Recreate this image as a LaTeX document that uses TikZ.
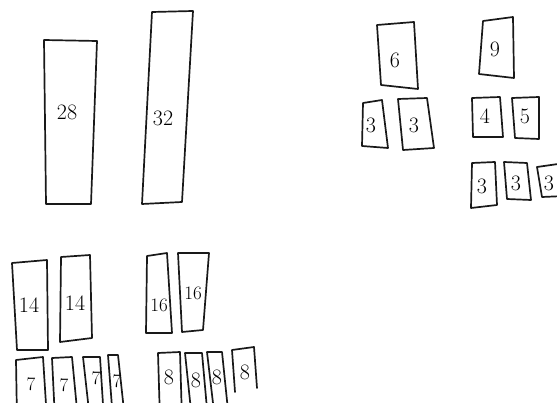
\documentclass[tikz,border=0pt]{standalone}
\begin{document}
\begin{tikzpicture}[x=1pt,y=-1pt,
  card/.style={draw=black!90,line width=1.7pt,line join=round,line cap=round},
  num/.style={font=\fontsize{22}{22}\selectfont,inner sep=0pt},
  smallnum/.style={num,font=\fontsize{19}{19}\selectfont}]
\useasboundingbox (0,0) rectangle (557,403);
\clip (0,0) rectangle (557,403);
% top-left pair
\draw[card] (44,40) -- (97,41) -- (91,204) -- (46,204) -- cycle;
\node[num] (n28) at (67,112) {28};
\draw[card] (152,12) -- (193,11) -- (182,202) -- (142,204) -- cycle;
\node[num] (n32) at (163,118) {32};
% 6 and its halves
\draw[card] (377,25) -- (414,22) -- (418,89) -- (381,85) -- cycle;
\node[num] (n6) at (395,60) {6};
\draw[card] (363,103) -- (382,100) -- (388,148) -- (362,146) -- cycle;
\node[num] (n3a) at (371,125) {3};
\draw[card] (398,99) -- (427,98) -- (434,148) -- (403,150) -- cycle;
\node[num] (n3b) at (414,125) {3};
% 9 group
\draw[card] (483,21) -- (513,17) -- (514,78) -- (479,74) -- cycle;
\node[num] (n9) at (495,49) {9};
\draw[card] (472,98) -- (500,97) -- (503,137) -- (473,137) -- cycle;
\node[num] (n4) at (485,116) {4};
\draw[card] (512,98) -- (539,97) -- (539,139) -- (515,138) -- cycle;
\node[num] (n5) at (525,116) {5};
\draw[card] (472,163) -- (495,162) -- (497,205) -- (471,208) -- cycle;
\node[num] (n3c) at (482,186) {3};
\draw[card] (504,162) -- (527,163) -- (531,200) -- (507,199) -- cycle;
\node[num] (n3d) at (516,183) {3};
\draw[card] (537,167) -- (565,163) -- (565,196) -- (542,197) -- cycle;
\node[num] (n3e) at (549,183) {3};
% 14s and 16s
\draw[card] (12,263) -- (47,260) -- (48,350) -- (17,350) -- cycle;
\node[num] (n14a) at (29,305) {14};
\draw[card] (61,257) -- (90,255) -- (92,338) -- (60,342) -- cycle;
\node[num] (n14b) at (75,303) {14};
\draw[card] (147,256) -- (167,253) -- (172,333) -- (146,333) -- cycle;
\node[smallnum] (n16a) at (159,305) {16};
\draw[card] (178,253) -- (209,253) -- (203,330) -- (182,332) -- cycle;
\node[smallnum] (n16b) at (193,293) {16};
% 7s (running off the bottom edge)
\draw[card] (17,420) -- (16,360) -- (43,357) -- (47,420);
\node[smallnum] (n7a) at (31,384) {7};
\draw[card] (55,420) -- (52,358) -- (72,357) -- (78,420);
\node[smallnum] (n7b) at (64,385) {7};
\draw[card] (90,420) -- (83,357) -- (100,357) -- (104,420);
\node[smallnum] (n7c) at (96,378) {7};
\draw[card] (113,420) -- (108,355) -- (118,355) -- (125,420);
\node[smallnum] (n7d) at (117,381) {7};
% 8s
\draw[card] (160,420) -- (158,353) -- (180,352) -- (182,420);
\node[num] (n8a) at (169,377) {8};
\draw[card] (192,420) -- (185,353) -- (202,353) -- (208,420);
\node[num] (n8b) at (196,380) {8};
\draw[card] (215,420) -- (207,352) -- (222,352) -- (229,420);
\node[num] (n8c) at (217,377) {8};
\draw[card] (235,392) -- (232,350) -- (254,347) -- (257,388);
\node[num] (n8d) at (245,372) {8};
\end{tikzpicture}
\end{document}
